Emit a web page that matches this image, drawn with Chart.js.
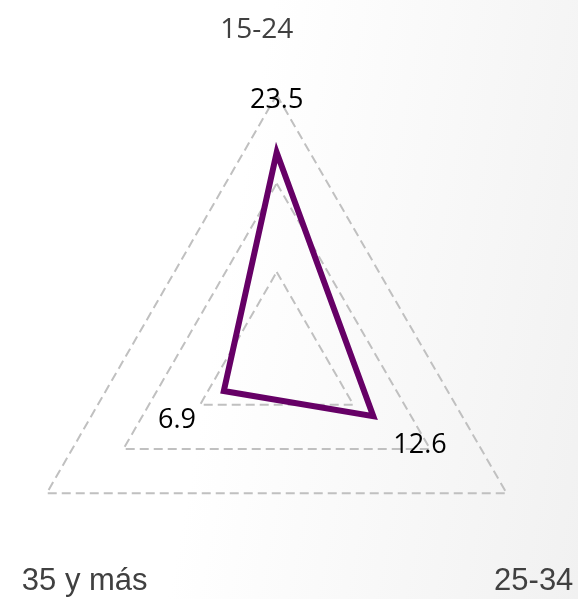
<!DOCTYPE html>
<html>
<head>
<meta charset="utf-8">
<script src="https://cdn.jsdelivr.net/npm/chart.js@4/dist/chart.umd.min.js"></script>
<style>
  html, body { margin: 0; padding: 0; }
  body {
    width: 578px; height: 599px; overflow: hidden;
    background: linear-gradient(100deg, #ffffff 40%, #f1f1f1 100%);
  }
  #wrap { position: relative; width: 578px; height: 599px; }
</style>
</head>
<body>
<div id="wrap"><canvas id="chart" width="578" height="599"></canvas></div>
<script>
// data
const categories = ["15-24", "25-34", "35 y más"];
const values = [23.5, 12.6, 6.9];
const tickValues = [0, 10, 20, 30];

const purple = "#660066";

// label look / offsets (pixels, relative to outer vertex)
const catFonts = ["28px 'Open Sans'", "31px 'Liberation Sans'", "31px 'Liberation Sans'"];
const catOffsets = [[-20, -57], [27, 97], [38, 97]];

const labelsPlugin = {
  id: "labels",
  afterDatasetsDraw(chart) {
    const ctx = chart.ctx;
    const s = chart.scales.r;
    ctx.save();
    ctx.textAlign = "center";
    ctx.textBaseline = "alphabetic";
    // value labels, pushed outward along each axis
    ctx.fillStyle = "#000000";
    ctx.font = "27px 'Open Sans'";
    values.forEach((v, i) => {
      const d = s.getDistanceFromCenterForValue(v) + 54;
      const p = s.getPointPosition(i, d);
      ctx.fillText(v.toFixed(1), p.x, p.y + 10);
    });
    // category labels
    ctx.fillStyle = "#404040";
    categories.forEach((c, i) => {
      const p = s.getPointPosition(i, s.drawingArea);
      ctx.font = catFonts[i];
      ctx.fillText(c, p.x + catOffsets[i][0], p.y + catOffsets[i][1]);
    });
    ctx.restore();
  }
};

window.addEventListener("load", function () {
  const ctx = document.getElementById("chart");
  const chart = new Chart(ctx, {
    type: "radar",
    data: {
      labels: categories,
      datasets: [
        {
          label: "Serie",
          data: values,
          borderColor: purple,
          borderWidth: 6,
          fill: false,
          pointRadius: 0,
          pointHoverRadius: 0,
          borderJoinStyle: "miter"
        }
      ]
    },
    options: {
      responsive: false,
      animation: false,
      events: [],
      plugins: { legend: { display: false }, tooltip: { enabled: false } },
      scales: {
        r: {
          min: tickValues[0],
          max: tickValues[tickValues.length - 1],
          afterBuildTicks: (s) => { s.ticks = tickValues.map(v => ({ value: v })); },
          ticks: { display: false },
          pointLabels: { display: false },
          angleLines: { display: false },
          grid: { color: "#c0c0c0", lineWidth: 2 },
          border: { dash: [9, 5] },
          afterFit: (s) => {
            s.xCenter = 276.7;
            s.yCenter = 360.5;
            s.drawingArea = 265.6;
          }
        }
      }
    },
    plugins: [labelsPlugin]
  });
});
</script>
</body>
</html>
